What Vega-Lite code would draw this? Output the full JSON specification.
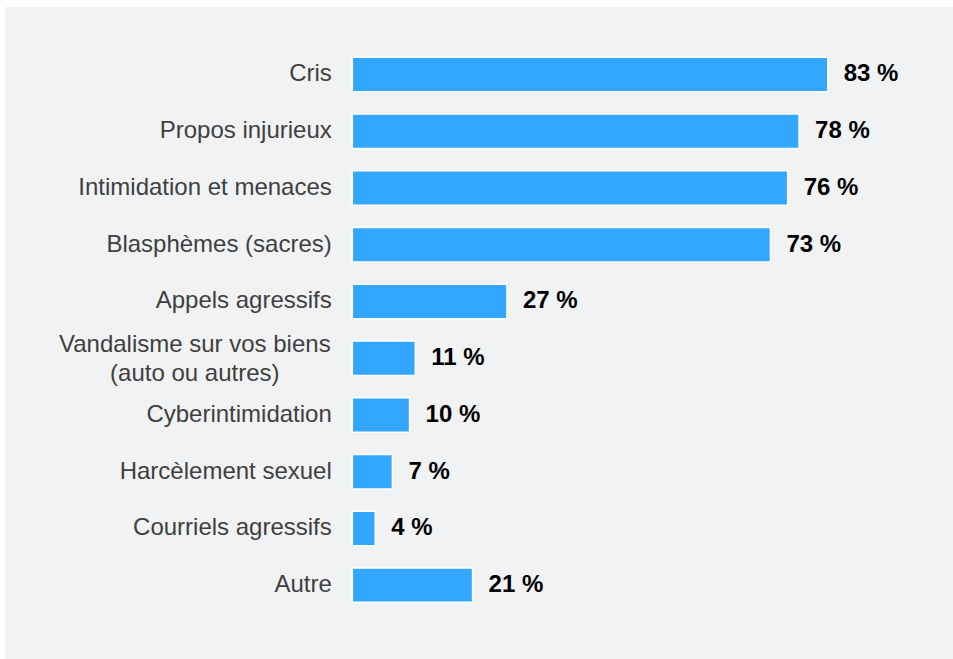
{
  "$schema": "https://vega.github.io/schema/vega-lite/v6.json",
  "width": 948,
  "height": 652,
  "autosize": "none",
  "padding": {"left": 5, "top": 7, "right": 0, "bottom": 0},
  "background": "white",
  "config": {"view": {"fill": "#f1f2f4", "stroke": null}},
  "data": {
    "values": [
      {"cat": "Cris", "pct": 83, "label": "83 %"},
      {"cat": "Propos injurieux", "pct": 78, "label": "78 %"},
      {"cat": "Intimidation et menaces", "pct": 76, "label": "76 %"},
      {"cat": "Blasphèmes (sacres)", "pct": 73, "label": "73 %"},
      {"cat": "Appels agressifs", "pct": 27, "label": "27 %"},
      {"cat": "Vandalisme sur vos biens (auto ou autres)", "pct": 11, "label": "11 %"},
      {"cat": "Cyberintimidation", "pct": 10, "label": "10 %"},
      {"cat": "Harcèlement sexuel", "pct": 7, "label": "7 %"},
      {"cat": "Courriels agressifs", "pct": 4, "label": "4 %"},
      {"cat": "Autre", "pct": 21, "label": "21 %"}
    ]
  },
  "encoding": {
    "y": {
      "field": "cat",
      "type": "nominal",
      "sort": null,
      "scale": {"paddingInner": 0.392, "paddingOuter": 0.9415, "align": 0.47},
      "axis": {
        "title": null,
        "orient": "left",
        "offset": -347.3,
        "domain": false,
        "ticks": false,
        "grid": false,
        "labelFont": "Liberation Sans",
        "labelFontSize": 24,
        "labelColor": "#404040",
        "labelLimit": 500,
        "labelLineHeight": 29,
        "labelExpr": "indexof(datum.value, '(auto') > 0 ? ['Vandalisme sur vos biens', '(auto ou autres)'] : datum.label",
        "labelAlign": {"condition": {"test": "indexof(datum.value, '(auto') > 0", "value": "center"}, "value": "right"},
        "labelPadding": {"condition": {"test": "indexof(datum.value, '(auto') > 0", "value": 158}, "value": 21},
        "labelOffset": {"condition": {"test": "indexof(datum.value, '(auto') > 0", "value": -13.5}, "value": 0}
      }
    },
    "x": {
      "field": "pct",
      "type": "quantitative",
      "scale": {"domain": [-60.63, 104.87], "nice": false},
      "axis": null
    }
  },
  "layer": [
    {"mark": {"type": "bar", "color": "#33a6ff", "stroke": "white", "strokeWidth": 1.5}},
    {
      "mark": {"type": "text", "align": "left", "baseline": "middle", "dx": 16, "font": "Liberation Sans", "fontSize": 24, "fontWeight": "bold", "color": "#000000"},
      "encoding": {"text": {"field": "label"}}
    }
  ]
}
